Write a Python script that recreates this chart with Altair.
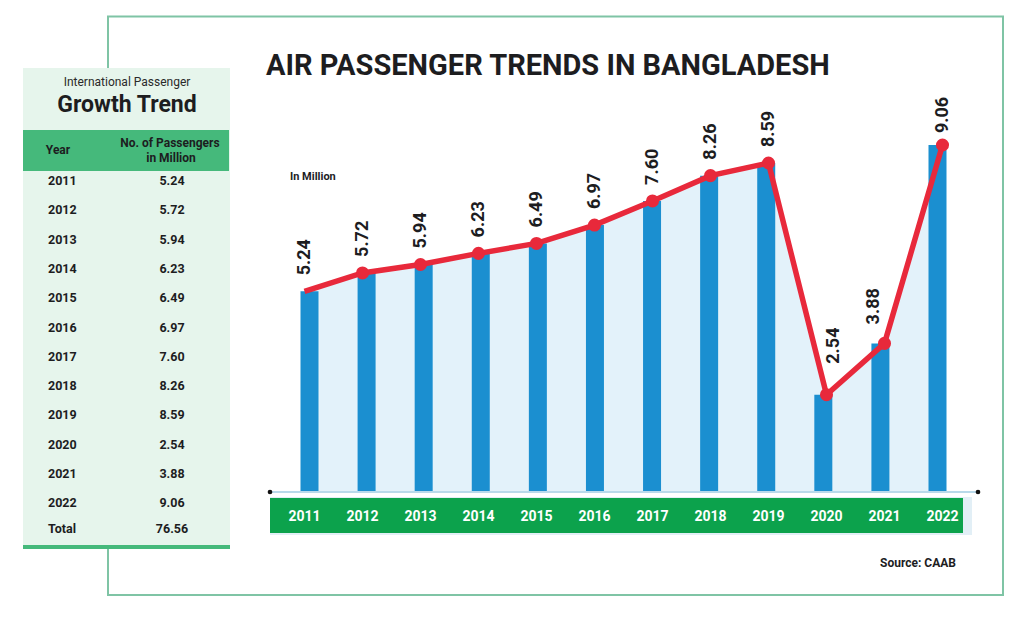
import altair as alt
import pandas as pd

# ---------------- data ----------------
years = [2011, 2012, 2013, 2014, 2015, 2016, 2017, 2018, 2019, 2020, 2021, 2022]
passengers = [5.24, 5.72, 5.94, 6.23, 6.49, 6.97, 7.60, 8.26, 8.59, 2.54, 3.88, 9.06]
value_labels = ["5.24", "5.72", "5.94", "6.23", "6.49", "6.97", "7.60", "8.26", "8.59", "2.54", "3.88", "9.06"]
year_labels = [str(y) for y in years]
total_row = "Total"
total_value = "76.56"

title_text = "AIR PASSENGER TRENDS IN BANGLADESH"
unit_text = "In Million"
source_text = "Source: CAAB"
table_kicker = "International Passenger"
table_title = "Growth Trend"
col_year = "Year"
col_pass = ["No. of Passengers", "in Million"]

# ---------------- styles ----------------
FONT = "Roboto, sans-serif"
DARK = "#1d1d1f"
RED = "#e8293b"
BLUE = "#1b8fd0"
AREA = "#e3f2fa"
GREEN = "#0ca24c"
TGREEN = "#45b97b"
TBG = "#e6f5ec"
FRAME = "#7fc4a5"

df = pd.DataFrame({"year": years, "value": passengers, "label": value_labels, "ylab": year_labels})
tdf = pd.DataFrame({"row": year_labels, "val": value_labels})
totdf = pd.DataFrame({"row": [total_row], "val": [total_value]})
one = pd.DataFrame({"k": [0]})

X = alt.X("year:Q", scale=alt.Scale(domain=[2011, 2022], range=[296.5, 934.5], nice=False, zero=False), axis=None)
Y = alt.Y("value:Q", scale=alt.Scale(domain=[0, 10], range=[484, 101], nice=False, zero=True), axis=None)
rows_domain = year_labels + [total_row]
TY = alt.Y("row:N", scale=alt.Scale(domain=rows_domain, range=[173, 524.6], padding=0), axis=None)

base1 = alt.Chart(one)

frame = base1.mark_rect(fill="white", stroke=FRAME, strokeWidth=2).encode(
    x=alt.value(100), x2=alt.value(995), y=alt.value(8.5), y2=alt.value(587))
table_bg = base1.mark_rect(fill=TBG).encode(
    x=alt.value(15), x2=alt.value(222), y=alt.value(60), y2=alt.value(538))
table_head = base1.mark_rect(fill=TGREEN).encode(
    x=alt.value(15), x2=alt.value(221), y=alt.value(122), y2=alt.value(163))
table_bottom = base1.mark_rect(fill=TGREEN).encode(
    x=alt.value(15), x2=alt.value(222), y=alt.value(537), y2=alt.value(541))

kicker = base1.mark_text(text=table_kicker, font=FONT, fontSize=12, color="#2a2a2a",
                         align="center", baseline="middle").encode(x=alt.value(119), y=alt.value(74))
ttitle = base1.mark_text(text=table_title, font=FONT, fontSize=23, fontWeight="bold", color=DARK,
                         align="center", baseline="middle").encode(x=alt.value(119), y=alt.value(97))
hyear = base1.mark_text(text=col_year, font=FONT, fontSize=12, fontWeight="bold", color=DARK,
                        align="center", baseline="middle").encode(x=alt.value(50), y=alt.value(142))
hpass1 = base1.mark_text(text=col_pass[0], font=FONT, fontSize=12, fontWeight="bold", color=DARK,
                         align="center", baseline="middle").encode(x=alt.value(162), y=alt.value(135))
hpass2 = base1.mark_text(text=col_pass[1], font=FONT, fontSize=12, fontWeight="bold", color=DARK,
                         align="center", baseline="middle").encode(x=alt.value(163), y=alt.value(150))

trow_year = alt.Chart(tdf).mark_text(font=FONT, fontSize=12.5, fontWeight="bold", color=DARK,
                                     align="left", baseline="middle").encode(
    x=alt.value(40), y=TY, text="row:N")
trow_val = alt.Chart(tdf).mark_text(font=FONT, fontSize=12.5, fontWeight="bold", color=DARK,
                                    align="center", baseline="middle").encode(
    x=alt.value(164), y=TY, text="val:N")
ttot_lab = alt.Chart(totdf).mark_text(font=FONT, fontSize=12.5, fontWeight="bold", color=DARK,
                                      align="left", baseline="middle", dy=-4).encode(
    x=alt.value(40), y=TY, text="row:N")
ttot_val = alt.Chart(totdf).mark_text(font=FONT, fontSize=12.5, fontWeight="bold", color=DARK,
                                      align="center", baseline="middle", dy=-4).encode(
    x=alt.value(164), y=TY, text="val:N")

title = base1.mark_text(text=title_text, font=FONT, fontSize=29, fontWeight="bold", color=DARK,
                        align="left", baseline="alphabetic").encode(x=alt.value(258), y=alt.value(67))
unit = base1.mark_text(text=unit_text, font=FONT, fontSize=11, fontWeight="bold", color=DARK,
                       align="left", baseline="middle").encode(x=alt.value(282), y=alt.value(169))
source = base1.mark_text(text=source_text, font=FONT, fontSize=12, fontWeight="bold", color=DARK,
                         align="right", baseline="middle").encode(x=alt.value(948), y=alt.value(555))

base = alt.Chart(df)
area = base.mark_area(color=AREA).encode(x=X, y=Y)
bars = base.mark_bar(size=18, color=BLUE).encode(x=X, y=Y)
baseline = base1.mark_rule(color="#b9d9ea", strokeWidth=2).encode(
    x=alt.value(262), x2=alt.value(970), y=alt.value(484))
ends = alt.Chart(pd.DataFrame({"px": [262, 970]})).mark_circle(size=22, color="#111111", opacity=1).encode(
    x=alt.X("px:Q", scale=alt.Scale(domain=[0, 1008], range=[0, 1008]), axis=None), y=alt.value(484))
band_shadow = base1.mark_rect(fill="#e2eff6").encode(
    x=alt.value(262), x2=alt.value(964), y=alt.value(489), y2=alt.value(527))
band = base1.mark_rect(fill=GREEN).encode(
    x=alt.value(262), x2=alt.value(955), y=alt.value(490), y2=alt.value(525))
xlabels = base.mark_text(font=FONT, fontSize=14, fontWeight="bold", color="white",
                         align="center", baseline="middle").encode(x=X, y=alt.value(509), text="ylab:N")
line = base.mark_line(color=RED, strokeWidth=5.5).encode(x=X, y=Y)
points = base.transform_filter(alt.datum.year > 2011).mark_circle(size=170, color=RED, opacity=1).encode(x=X, y=Y)


def value_label_layer(filt, dx, dy):
    return base.transform_filter(filt).mark_text(
        font=FONT, fontSize=18, fontWeight="bold", color=DARK, angle=270,
        align="left", baseline="middle", dx=dx, dy=dy).encode(x=X, y=Y, text="label:N")


vl_main = value_label_layer(alt.datum.year < 2020, 16, 0)
vl_2020 = value_label_layer(alt.datum.year == 2020, 31, 7)
vl_2021 = value_label_layer(alt.datum.year == 2021, 19, -11)
vl_2022 = value_label_layer(alt.datum.year == 2022, 12, 0)

chart = alt.layer(
    frame, table_bg, table_head, table_bottom, kicker, ttitle, hyear, hpass1, hpass2,
    trow_year, trow_val, ttot_lab, ttot_val, title, unit, source,
    area, bars, baseline, ends, band_shadow, band, xlabels, line, points,
    vl_main, vl_2020, vl_2021, vl_2022
).resolve_scale(x="independent", y="independent").properties(
    width=1008, height=603, padding=0, background="white",
    autosize=alt.AutoSizeParams(type="none")
).configure_view(stroke=None)

chart.save("out.html", embed_options={"renderer": "svg", "actions": False})
